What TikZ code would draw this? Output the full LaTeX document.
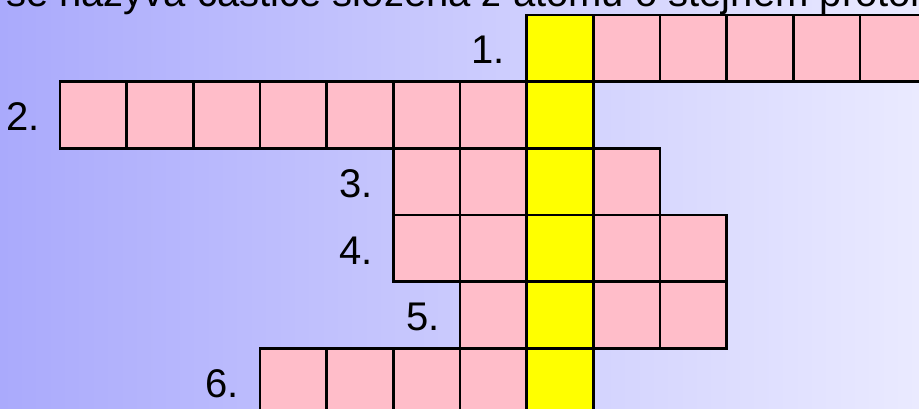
\documentclass[tikz,border=0pt]{standalone}
\usepackage{fontspec}
\setmainfont{Liberation Sans}
\definecolor{pinkc}{RGB}{255,189,201}
\definecolor{yelc}{RGB}{255,255,0}
\definecolor{bgl}{RGB}{170,170,252}
\definecolor{bgr}{RGB}{234,234,255}
\begin{document}
\begin{tikzpicture}[x=1pt,y=-1pt,
  cell/.style={draw=black, line width=2.6pt, minimum size=66.67pt, inner sep=0pt, outer sep=0pt, fill=pinkc},
  keycell/.style={cell, fill=yelc},
  num/.style={anchor=base east, inner sep=0pt, font=\fontsize{40}{48}\selectfont},
  question/.style={anchor=base west, inner sep=0pt, font=\fontsize{40}{48}\selectfont}]
\useasboundingbox (0,0) rectangle (919,409);
\clip (0,0) rectangle (919,409);
\shade[left color=bgl, right color=bgr] (0,0) rectangle (919,409);
\node[question] (q) at (6,6.5) {se nazývá částice složená z atomů o stejném protonovém čísle?};
\foreach \r/\a/\b in {1/7/12, 2/0/7, 3/5/8, 4/5/9, 5/6/9, 6/3/7} {
  \foreach \k in {\a,...,\b} {
    \ifnum\k=7 \def\sty{keycell}\else\def\sty{cell}\fi
    \node[\sty] (c\r-\k) at ({60+(\k+0.5)*66.667},{15+(\r-0.5)*66.667}) {};
  }
}
\node[num] (n1) at (505,64) {1.};
\node[num] (n2) at (40,130.5) {2.};
\node[num] (n3) at (373,197) {3.};
\node[num] (n4) at (373,264) {4.};
\node[num] (n5) at (440,330.5) {5.};
\node[num] (n6) at (239,397) {6.};
\end{tikzpicture}
\end{document}
